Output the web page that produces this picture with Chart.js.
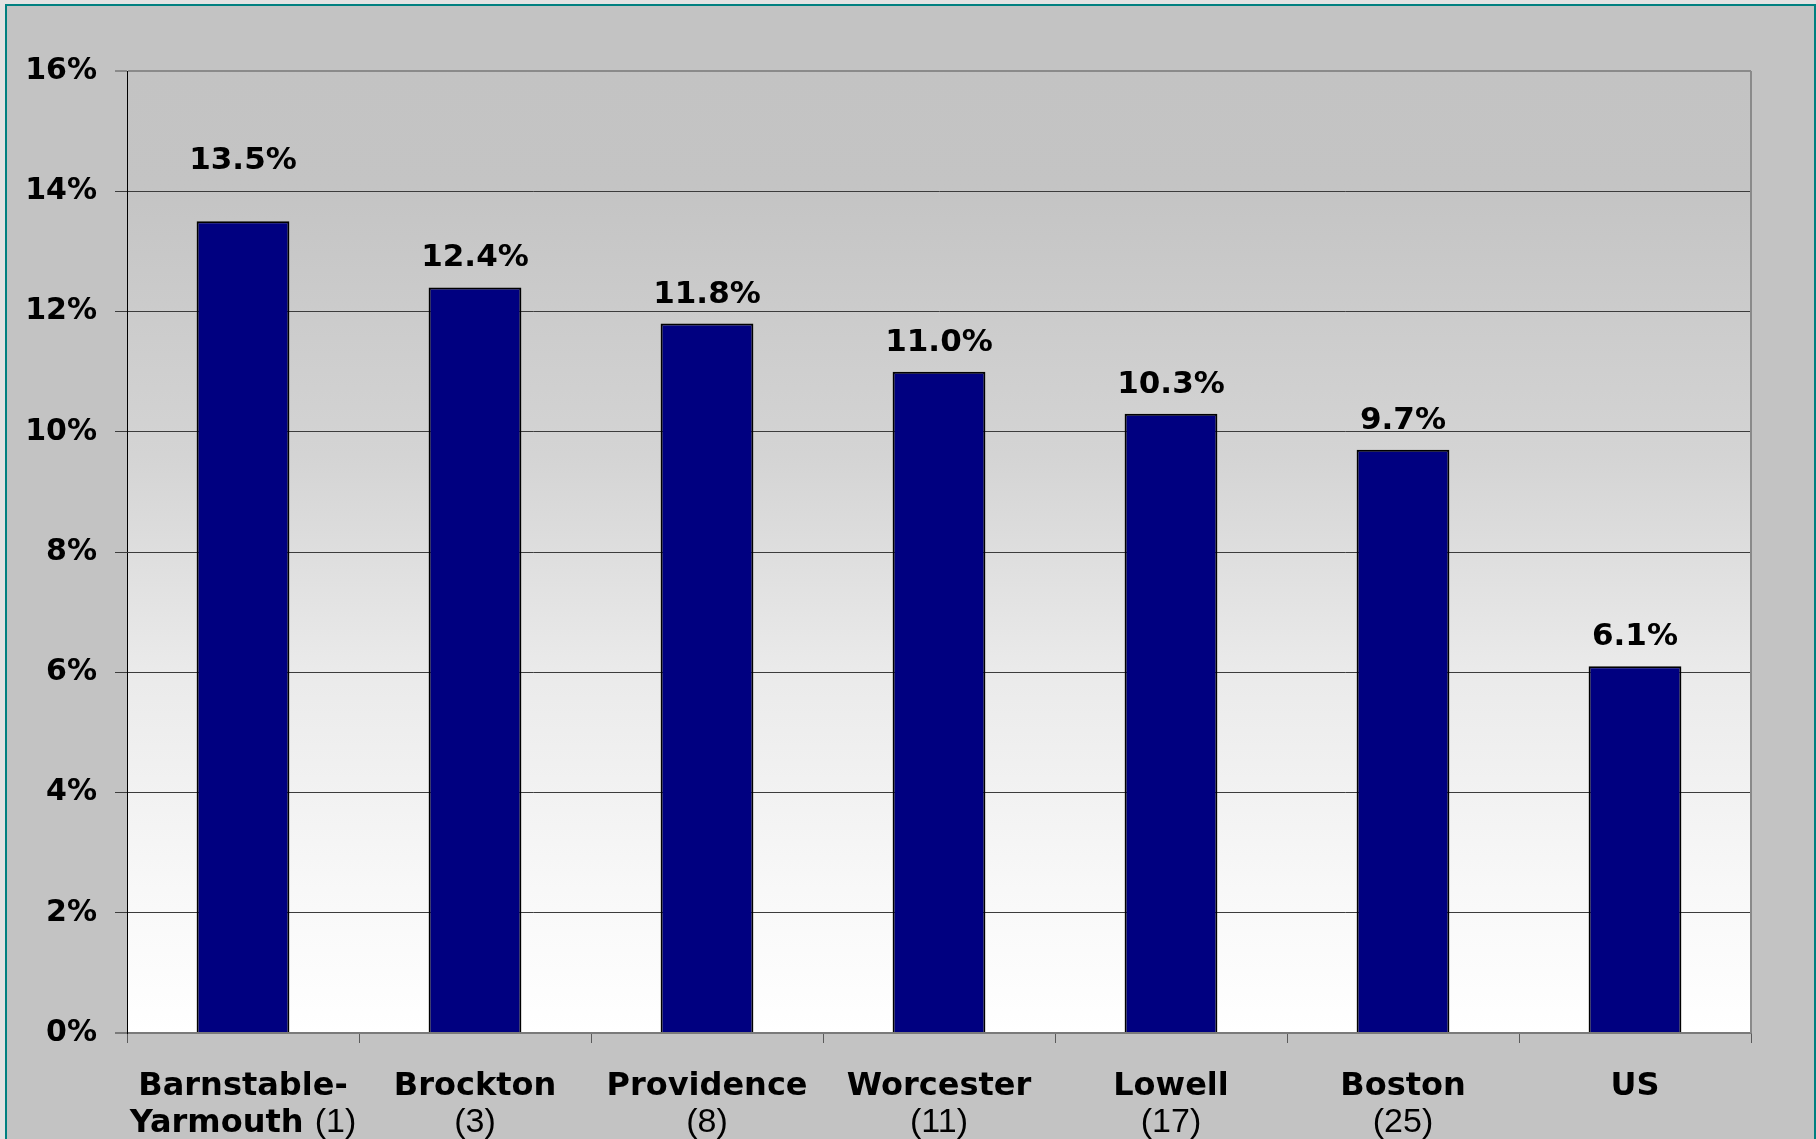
<!DOCTYPE html>
<html>
<head>
<meta charset="utf-8">
<script src="https://cdn.jsdelivr.net/npm/chart.js@4.4.1/dist/chart.umd.min.js"></script>
<style>
    html, body {
        margin: 0;
        padding: 0;
        width: 1816px;
        height: 1139px;
        overflow: hidden;
        background: #e2e2e2;
    }
    #frame {
        position: absolute;
        left: 5px;
        top: 4px;
        width: 1807px;
        height: 1200px;
        border: 2px solid #008080;
        border-bottom: none;
        background: #c3c3c3;
    }
    #shareChart {
        position: absolute;
        left: 0;
        top: 0;
    }
</style>
</head>
<body>
<div id="frame"></div>
<canvas id="shareChart" width="1816" height="1139"></canvas>
<script>
const categories = ['Barnstable-', 'Brockton', 'Providence', 'Worcester', 'Lowell', 'Boston', 'US'];
const categoriesLine2 = ['Yarmouth', '', '', '', '', '', ''];
const ranks = ['(1)', '(3)', '(8)', '(11)', '(17)', '(25)', ''];
const shares = [13.5, 12.4, 11.8, 11.0, 10.3, 9.7, 6.1];
const yTickValues = [0, 2, 4, 6, 8, 10, 12, 14, 16];

const valueFont = 'bold 31px "DejaVu Sans"';
const nameFont = 'bold 32px "DejaVu Sans"';
const rankFont = '34px "Liberation Sans"';

// grey-to-white wash behind the bars
const plotBackground = {
    id: 'plotBackground',
    beforeDraw(chart) {
        const { ctx, chartArea: a } = chart;
        const g = ctx.createLinearGradient(0, a.top, 0, a.bottom);
        g.addColorStop(0, '#c3c3c3');
        g.addColorStop(0.12, '#c4c4c4');
        g.addColorStop(0.4, '#d4d4d4');
        g.addColorStop(0.62, '#eaeaea');
        g.addColorStop(0.85, '#f8f8f8');
        g.addColorStop(1, '#ffffff');
        ctx.save();
        ctx.fillStyle = g;
        ctx.fillRect(a.left, a.top, a.right - a.left, a.bottom - a.top);
        ctx.restore();
    },
    afterDatasetsDraw(chart) {
        const { ctx, chartArea: a } = chart;
        ctx.save();
        ctx.strokeStyle = '#8a8a8a';
        ctx.lineWidth = 2;
        ctx.beginPath();
        ctx.moveTo(a.right, a.top);
        ctx.lineTo(a.right, a.bottom);
        ctx.stroke();
        ctx.restore();
    }
};

// percentage above each bar
const valueLabels = {
    id: 'valueLabels',
    afterDatasetsDraw(chart, args, opts) {
        const { ctx } = chart;
        const meta = chart.getDatasetMeta(0);
        ctx.save();
        ctx.font = valueFont;
        ctx.fillStyle = '#000';
        ctx.textAlign = 'center';
        ctx.textBaseline = 'middle';
        meta.data.forEach((bar, i) => {
            const lift = opts.gap + (opts.extraLift[i] || 0);
            ctx.fillText(shares[i].toFixed(1) + '%', bar.x, bar.y - lift);
        });
        ctx.restore();
    }
};

// two-line category labels: bold name, regular rank
const categoryLabels = {
    id: 'categoryLabels',
    afterDraw(chart) {
        const { ctx, scales } = chart;
        const x = scales.x;
        const base = chart.chartArea.bottom;
        ctx.save();
        ctx.fillStyle = '#000';
        ctx.textBaseline = 'alphabetic';
        categories.forEach((name, i) => {
            const cx = x.getPixelForValue(i);
            ctx.font = nameFont;
            ctx.textAlign = 'center';
            ctx.fillText(name, cx, base + 62);

            const second = categoriesLine2[i];
            const rank = ranks[i];
            ctx.font = nameFont;
            const w1 = second ? ctx.measureText(second + ' ').width : 0;
            ctx.font = rankFont;
            const w2 = ctx.measureText(rank).width;
            let left = cx - (w1 + w2) / 2;
            ctx.textAlign = 'left';
            if (second) {
                ctx.font = nameFont;
                ctx.fillText(second, left, base + 99);
                left += w1;
            }
            ctx.font = rankFont;
            ctx.fillText(rank, left, base + 99);
        });
        ctx.restore();
    }
};

const ctx = document.getElementById('shareChart').getContext('2d');
new Chart(ctx, {
    type: 'bar',
    data: {
        labels: categories.map((c, i) => (c + categoriesLine2[i] + ' ' + ranks[i]).trim()),
        datasets: [{
            data: shares,
            backgroundColor: '#000080',
            borderColor: '#000000',
            borderWidth: 2,
            categoryPercentage: 1.0,
            barPercentage: 0.4
        }]
    },
    options: {
        responsive: false,
        animation: false,
        devicePixelRatio: 1,
        layout: {
            padding: { top: 71, right: 65, left: 0, bottom: 0 }
        },
        scales: {
            x: {
                afterFit: (scale) => { scale.height = 106; },
                ticks: { display: false },
                grid: {
                    offset: true,
                    drawOnChartArea: false,
                    drawTicks: true,
                    tickLength: 10,
                    color: '#5a5a5a',
                    lineWidth: 1
                },
                border: { display: true, color: '#7a7a7a', width: 2 }
            },
            y: {
                min: 0,
                max: 16,
                afterFit: (scale) => { scale.width = 127; },
                afterBuildTicks: (scale) => {
                    scale.ticks = yTickValues.map(v => ({ value: v }));
                },
                ticks: {
                    callback: (v) => v + '%',
                    font: { family: 'DejaVu Sans', size: 30, weight: 'bold' },
                    color: '#000',
                    padding: 18
                },
                grid: {
                    drawTicks: true,
                    tickLength: 12,
                    color: (c) => (c.tick && c.tick.value === 16) ? '#8a8a8a' : (c.tick && c.tick.value === 0 ? '#7a7a7a' : '#3c3c3c'),
                    lineWidth: (c) => (c.tick && (c.tick.value === 16 || c.tick.value === 0)) ? 2 : 1
                },
                border: { display: true, color: '#000000', width: 1 }
            }
        },
        plugins: {
            legend: { display: false },
            tooltip: { enabled: false },
            valueLabels: { gap: 29, extraLift: { 0: 31 } }
        }
    },
    plugins: [plotBackground, valueLabels, categoryLabels]
});
</script>
</body>
</html>
